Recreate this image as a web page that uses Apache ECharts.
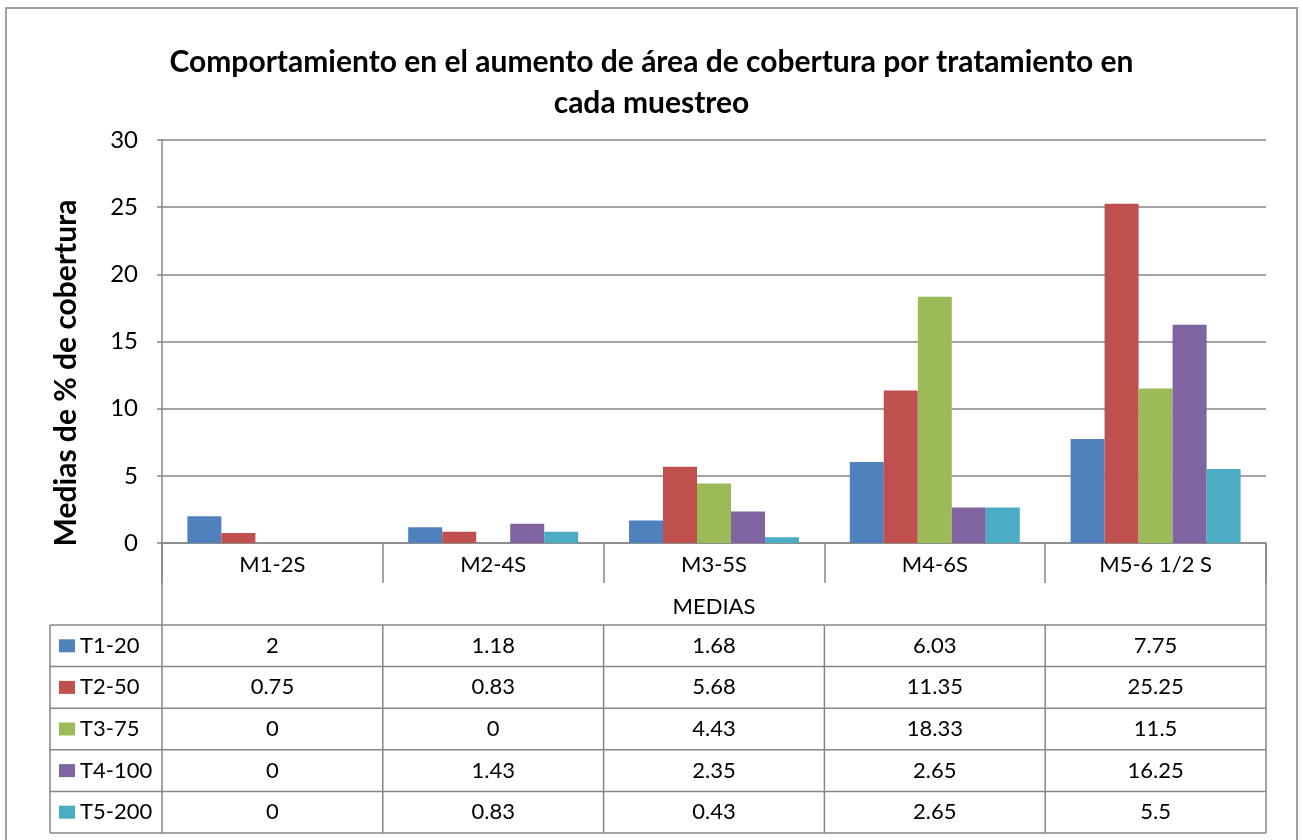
<!DOCTYPE html>
<html>
<head>
<meta charset="utf-8">
<script src="https://cdn.jsdelivr.net/npm/echarts@6/dist/echarts.min.js"></script>
<style>
  html, body { margin: 0; padding: 0; background: #fff; }
  #main { width: 1303px; height: 840px; }
</style>
</head>
<body>
<div id="main"></div>
<script>
var categories = ['M1-2S', 'M2-4S', 'M3-5S', 'M4-6S', 'M5-6 1/2 S'];
var seriesNames = ['T1-20', 'T2-50', 'T3-75', 'T4-100', 'T5-200'];
var t1 = [2, 1.18, 1.68, 6.03, 7.75];
var t2 = [0.75, 0.83, 5.68, 11.35, 25.25];
var t3 = [0, 0, 4.43, 18.33, 11.5];
var t4 = [0, 1.43, 2.35, 2.65, 16.25];
var t5 = [0, 0.83, 0.43, 2.65, 5.5];
var seriesValues = [t1, t2, t3, t4, t5];
var colors = ['#4F81BD', '#C0504D', '#9BBB59', '#8064A2', '#4BACC6'];

var FONT = 'Lato, "Open Sans", sans-serif';
var gridLeft = 162, gridRight = 1266, gridTop = 140, axisY = 543;
var tableTop = 625, tableBottom = 833, tableLeft = 50;
var rowH = (tableBottom - tableTop) / seriesNames.length;
var colW = (gridRight - gridLeft) / categories.length;
var lineColor = '#868686';
var fs = 22;

var myChart = echarts.init(document.getElementById('main'));

// one extra x axis per table row, it only shows the row values as labels
var xAxes = [{
  type: 'category',
  data: categories,
  position: 'bottom',
  axisLine: { lineStyle: { color: lineColor, width: 1.5 } },
  axisTick: { show: true, length: 40, lineStyle: { color: lineColor, width: 1.5 } },
  axisLabel: { color: '#000', fontFamily: FONT, fontSize: fs, margin: 11 },
  name: 'MEDIAS',
  nameLocation: 'middle',
  nameGap: 53,
  nameTextStyle: { color: '#000', fontFamily: FONT, fontSize: fs }
}];
seriesValues.forEach(function (vals, r) {
  var center = tableTop + rowH * (r + 0.5);
  xAxes.push({
    type: 'category',
    data: categories,
    position: 'bottom',
    offset: center - fs / 2 - axisY,
    axisLine: { show: false },
    axisTick: { show: false },
    axisLabel: {
      color: '#000', fontFamily: FONT, fontSize: fs, margin: 0,
      formatter: function (v, i) { return String(vals[i]); }
    }
  });
});

var graphics = [
  { type: 'rect', shape: { x: 6, y: 8, width: 1291, height: 860 },
    style: { fill: 'none', stroke: '#a0a0a0', lineWidth: 2 } },
  { type: 'text', x: 66, y: 373, rotation: Math.PI / 2,
    style: { text: 'Medias de % de cobertura', fontFamily: FONT, fontWeight: 'bold',
      fontSize: 30, fill: '#000', align: 'center', verticalAlign: 'middle' } }
];
// table grid lines
for (var r = 0; r <= seriesNames.length; r++) {
  var y = tableTop + r * rowH;
  graphics.push({ type: 'line', shape: { x1: tableLeft, y1: y, x2: gridRight, y2: y },
    style: { stroke: lineColor, lineWidth: 1.5 } });
}
graphics.push({ type: 'line', shape: { x1: tableLeft, y1: tableTop, x2: tableLeft, y2: tableBottom },
  style: { stroke: lineColor, lineWidth: 1.5 } });
graphics.push({ type: 'line', shape: { x1: gridLeft, y1: axisY, x2: gridLeft, y2: tableBottom },
  style: { stroke: lineColor, lineWidth: 1.5 } });
graphics.push({ type: 'line', shape: { x1: gridRight, y1: axisY, x2: gridRight, y2: tableBottom },
  style: { stroke: lineColor, lineWidth: 1.5 } });
for (var c = 1; c < categories.length; c++) {
  var x = gridLeft + c * colW;
  graphics.push({ type: 'line', shape: { x1: x, y1: tableTop, x2: x, y2: tableBottom },
    style: { stroke: lineColor, lineWidth: 1.5 } });
}

option = {
  color: colors,
  animation: false,
  title: {
    text: 'Comportamiento en el aumento de área de cobertura por tratamiento en\ncada muestreo',
    left: 'center',
    top: 37,
    textStyle: { fontFamily: FONT, fontWeight: 'bold', fontSize: 30, lineHeight: 41, color: '#000' }
  },
  legend: {
    data: seriesNames,
    orient: 'vertical',
    left: 59,
    top: tableTop + rowH / 2 - fs / 2,
    itemWidth: 16,
    itemHeight: 13,
    itemGap: rowH - fs,
    icon: 'rect',
    padding: 0,
    selectedMode: false,
    textStyle: { color: '#000', fontFamily: FONT, fontSize: fs, lineHeight: fs }
  },
  grid: {
    left: gridLeft,
    right: 1303 - gridRight,
    top: gridTop,
    bottom: 840 - axisY,
    containLabel: false
  },
  xAxis: xAxes,
  yAxis: {
    type: 'value',
    min: 0,
    max: 30,
    interval: 5,
    axisLine: { show: true, lineStyle: { color: lineColor, width: 1.5 } },
    axisTick: { show: true, length: 5, lineStyle: { color: lineColor, width: 1.5 } },
    axisLabel: { color: '#000', fontFamily: FONT, fontSize: 24, margin: 24 },
    splitLine: { lineStyle: { color: lineColor, width: 1.5 } }
  },
  graphic: graphics,
  series: seriesNames.map(function (name, i) {
    return {
      name: name,
      type: 'bar',
      xAxisIndex: 0,
      data: seriesValues[i],
      barGap: '0%',
      barCategoryGap: '23%'
    };
  })
};
myChart.setOption(option);
</script>
</body>
</html>
